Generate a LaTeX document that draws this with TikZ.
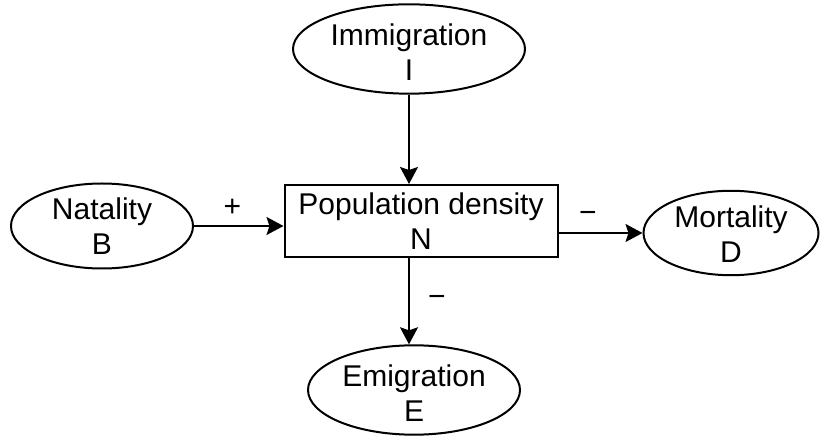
\documentclass[tikz,border=0pt]{standalone}
\usepackage{fontspec}
\setmainfont{Liberation Sans}
\usepackage{tikz}
\usetikzlibrary{shapes.geometric,arrows.meta,positioning}
\tikzstyle{stage}=[draw,ellipse,inner sep=0pt,minimum height=42.5pt,align=center,text height=31.6pt,text depth=-3.6pt,font=\fontsize{15}{17.5}\selectfont]
\tikzstyle{densitybox}=[draw,rectangle,minimum width=136.5pt,minimum height=36pt,align=center,font=\fontsize{15}{17.5}\selectfont]
\tikzstyle{sign}=[font=\fontsize{15}{17.5}\selectfont,inner sep=3pt]

\begin{document}
\begin{tikzpicture}[x=0.5pt,y=-0.5pt,line width=1pt,>={Stealth[length=8.5pt,width=9pt,inset=1.5pt]}]
\useasboundingbox (0,0) rectangle (822,437);
\node [densitybox] (n) at (421,221) {Population density\\N};
\node [stage, minimum width=116pt] (i) at (409,49) {Immigration\\I};
\node [stage, minimum width=91pt, text height=28.2pt, text depth=0pt] (b) at (102,226) {Natality\\B};
\node [stage, minimum width=87.5pt, minimum height=39pt, text height=29.85pt, text depth=-2.85pt] (d) at (731,233) {Mortality\\D};
\node [stage, minimum width=106pt] (e) at (414,390) {Emigration\\E};

\draw [->] (i) -- (i |- n.north);
\draw [->] (b) -- (b -| n.west) node [sign, pos=0.43, above=1pt] {+};
\draw [->] (n.east |- d) -- (d) node [sign, pos=0.35, above=1.5pt] {−};
\draw [->] (n.south -| i) -- (i |- e.north) node [sign, midway, right=6pt] {−};
\end{tikzpicture}
\end{document}
